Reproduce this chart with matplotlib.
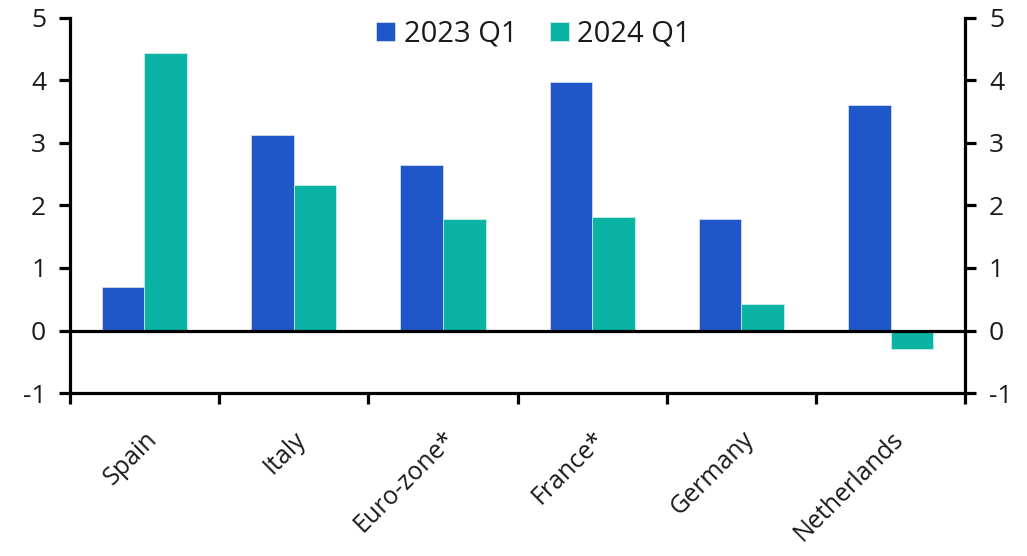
import matplotlib
matplotlib.use("Agg")
import matplotlib.pyplot as plt
import numpy as np

plt.rcParams['font.family'] = ['Open Sans', 'DejaVu Sans']
plt.rcParams['axes.unicode_minus'] = False

countries = ["Spain", "Italy", "Euro-zone*", "France*", "Germany", "Netherlands"]
q1_2023 = [0.70, 3.13, 2.64, 3.97, 1.79, 3.60]
q1_2024 = [4.43, 2.32, 1.79, 1.82, 0.42, -0.29]

blue = "#1F56C8"
teal = "#0AB3A3"
txt = "#1a1a1a"

fig = plt.figure(figsize=(10.27, 5.56), dpi=100)
ax = fig.add_axes([0.068, 0.293, 0.872, 0.675])

x = np.arange(len(countries))
w = 0.285
ax.bar(x - w / 2, q1_2023, w, color=blue, edgecolor="#dfe6f7", linewidth=0.5, label="2023 Q1", zorder=2)
ax.bar(x + w / 2, q1_2024, w, color=teal, edgecolor="#d5f2ef", linewidth=0.5, label="2024 Q1", zorder=2)

ax.axhline(0, color="black", lw=2.3, zorder=3)

ax.set_xlim(-0.5, len(countries) - 0.5)
ax.set_ylim(-1, 5)
ax.set_yticks(range(-1, 6))

# category boundaries get the tick marks, labels sit at centres
ax.set_xticks(x)
ax.set_xticklabels(countries, rotation=45, ha="right", rotation_mode="anchor", fontsize=18, color=txt)
ax.set_xticks(np.arange(-0.5, len(countries)), minor=True)
ax.tick_params(axis="x", which="major", length=0, pad=24)
ax.tick_params(axis="x", which="minor", length=8, width=2.3, direction="out")

ax.tick_params(axis="y", which="both", left=True, right=True, labelleft=True, labelright=True,
               length=8, width=2.3, direction="out", labelsize=19, pad=9, labelcolor=txt)

for side in ["left", "right", "bottom"]:
    ax.spines[side].set_linewidth(2.3)
ax.spines["top"].set_visible(False)

leg = ax.legend(loc="upper center", bbox_to_anchor=(0.518, 1.065), ncol=2, frameon=False,
                fontsize=21, handlelength=0.65, handleheight=0.65, handletextpad=0.3, columnspacing=1.1)
for t in leg.get_texts():
    t.set_color(txt)

fig.savefig("out.png", dpi=100)
